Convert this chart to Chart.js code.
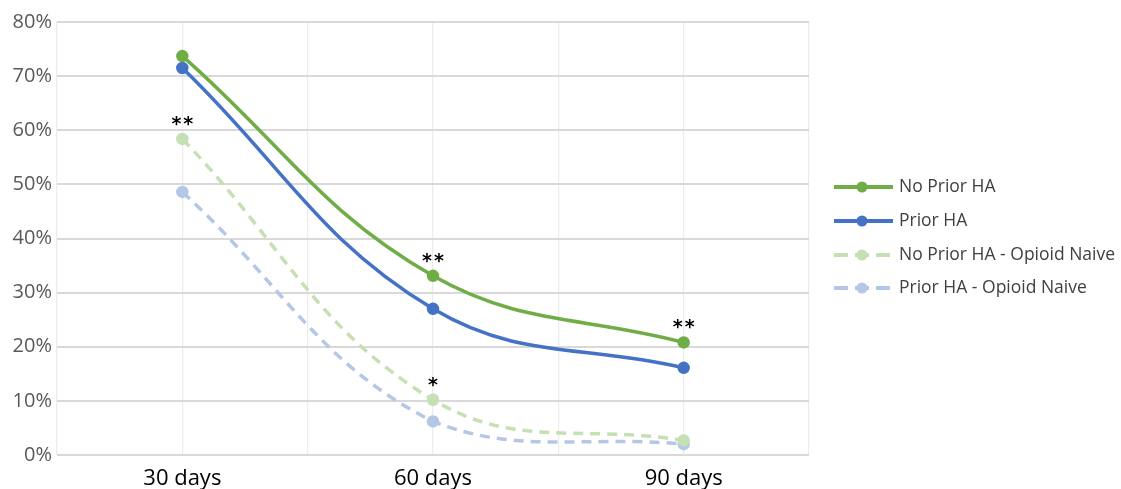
<!DOCTYPE html>
<html>
<head>
<meta charset="utf-8">
<script src="https://cdn.jsdelivr.net/npm/chart.js@4/dist/chart.umd.min.js"></script>
<style>
  html, body { margin: 0; padding: 0; background: #fff; }
  #wrap { width: 1121px; height: 489px; }
</style>
</head>
<body>
<div id="wrap"><canvas id="chart" width="1121" height="489"></canvas></div>
<script>
// categories and series (percent)
const categories = ["30 days", "60 days", "90 days"];
const noPriorHA = [73.7, 33.1, 20.8];
const priorHA = [71.5, 27.0, 16.1];
const noPriorNaive = [58.4, 10.2, 2.7];
const priorNaive = [48.6, 6.2, 2.0];

const seriesNames = ["No Prior HA", "Prior HA", "No Prior HA - Opioid Naive", "Prior HA - Opioid Naive"];
const seriesColors = ["#70ad47", "#4472c4", "#c5e0b4", "#b4c7e7"];

// significance marks: which series / which category
const markSeries = [2, 0, 2, 0];
const markIndex = [0, 1, 1, 2];
const markText = ["**", "**", "*", "**"];

const yTicks = [0, 10, 20, 30, 40, 50, 60, 70, 80];

// categories sit on every other gridline (Excel style axis)
function catX(i) { return 2 * i + 1; }
function toPoints(arr) { return arr.map((v, i) => ({ x: catX(i), y: v })); }

function makeSet(idx, values, dashed) {
    return {
        label: seriesNames[idx],
        data: toPoints(values),
        borderColor: seriesColors[idx],
        backgroundColor: seriesColors[idx],
        pointBackgroundColor: seriesColors[idx],
        pointBorderColor: seriesColors[idx],
        borderWidth: 3.5,
        borderDash: dashed ? [10, 7] : [],
        pointRadius: 4.5,
        tension: 0.4,
        fill: false
    };
}

const marksPlugin = {
    id: "marks",
    afterDatasetsDraw(chart) {
        const ctx = chart.ctx;
        ctx.save();
        ctx.fillStyle = "#000";
        ctx.font = "bold 19px 'DejaVu Sans'";
        ctx.letterSpacing = "2px";
        ctx.textAlign = "center";
        ctx.textBaseline = "alphabetic";
        for (let k = 0; k < markText.length; k++) {
            const pt = chart.getDatasetMeta(markSeries[k]).data[markIndex[k]];
            ctx.fillText(markText[k], pt.x + 1, pt.y - 9);
        }
        ctx.restore();
    }
};

const legendPlugin = {
    id: "sideLegend",
    afterDraw(chart) {
        const ctx = chart.ctx;
        const rows = [187, 221, 255, 288];
        ctx.save();
        ctx.font = "17.5px 'Open Sans'";
        ctx.textBaseline = "middle";
        ctx.textAlign = "left";
        for (let i = 0; i < seriesNames.length; i++) {
            const y = rows[i];
            ctx.strokeStyle = seriesColors[i];
            ctx.lineWidth = 4;
            ctx.setLineDash(i > 1 ? [14, 7] : []);
            ctx.beginPath();
            ctx.moveTo(834, y);
            ctx.lineTo(893, y);
            ctx.stroke();
            ctx.setLineDash([]);
            ctx.fillStyle = seriesColors[i];
            ctx.beginPath();
            ctx.arc(862, y, 5.5, 0, Math.PI * 2);
            ctx.fill();
            ctx.fillStyle = "#404040";
            ctx.fillText(seriesNames[i], 899, y);
        }
        ctx.restore();
    }
};

new Chart(document.getElementById("chart"), {
    type: "line",
    data: {
        datasets: [
            makeSet(0, noPriorHA, false),
            makeSet(1, priorHA, false),
            makeSet(2, noPriorNaive, true),
            makeSet(3, priorNaive, true)
        ]
    },
    options: {
        responsive: false,
        animation: false,
        layout: { padding: { top: 22, right: 312, left: 0, bottom: 0 } },
        plugins: {
            legend: { display: false },
            tooltip: { enabled: false }
        },
        scales: {
            x: {
                type: "linear",
                min: 0,
                max: 2 * categories.length,
                afterBuildTicks(scale) {
                    const t = [];
                    for (let v = 0; v <= 2 * categories.length; v++) t.push({ value: v });
                    scale.ticks = t;
                },
                ticks: {
                    autoSkip: false,
                    maxRotation: 0,
                    color: "#000",
                    font: { family: "'Open Sans'", size: 22 },
                    padding: 11,
                    callback: (v) => (v % 2 === 1 ? categories[(v - 1) / 2] : "")
                },
                grid: { color: "#ececec", lineWidth: 1.2, drawTicks: false },
                border: { display: false },
                afterFit(scale) { scale.height = 34; }
            },
            y: {
                min: 0,
                max: 80,
                afterBuildTicks(scale) {
                    scale.ticks = yTicks.map(v => ({ value: v }));
                },
                ticks: {
                    color: "#595959",
                    font: { family: "'Open Sans'", size: 20 },
                    padding: 5,
                    callback: (v) => v + "%"
                },
                grid: { color: "#d9d9d9", lineWidth: 2, drawTicks: false },
                border: { display: false },
                afterFit(scale) { scale.width = 57; }
            }
        }
    },
    plugins: [marksPlugin, legendPlugin]
});
</script>
</body>
</html>
